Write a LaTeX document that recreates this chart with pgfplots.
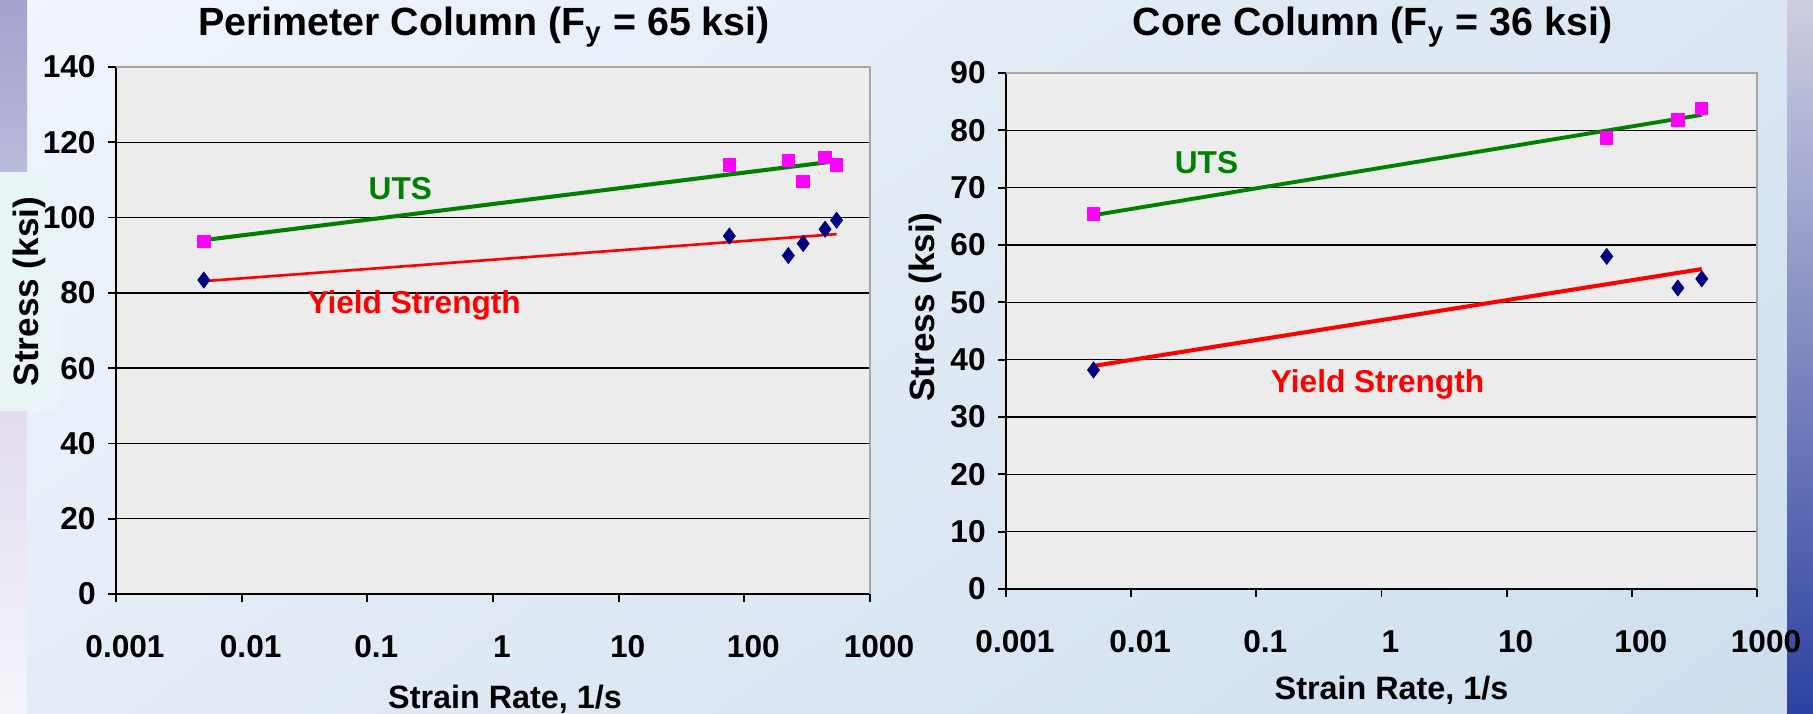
\documentclass[border=0pt]{standalone}
\usepackage{pgfplots}
\pgfplotsset{compat=1.18}
\usetikzlibrary{shadings}
\usepackage{fontspec}
\setmainfont{Liberation Sans}

\definecolor{bgtl}{RGB}{240,245,251}
\definecolor{bgtr}{RGB}{218,230,242}
\definecolor{bgbl}{RGB}{228,236,246}
\definecolor{bgbr}{RGB}{206,222,238}
\definecolor{stripetop}{RGB}{162,162,204}
\definecolor{stripemid}{RGB}{186,186,218}
\definecolor{stripelow}{RGB}{226,220,236}
\definecolor{stripebot}{RGB}{244,244,250}
\definecolor{labelbox}{RGB}{232,244,246}
\definecolor{bartop}{RGB}{206,206,224}
\definecolor{barbot}{RGB}{45,65,160}
\definecolor{plotbg}{RGB}{236,236,236}
\definecolor{utsgreen}{RGB}{0,128,0}
\definecolor{ysred}{RGB}{255,0,0}
\definecolor{sqmag}{RGB}{255,0,255}
\definecolor{dmnavy}{RGB}{0,0,128}

\begin{document}
\begin{tikzpicture}
\useasboundingbox (0,0) rectangle (181.3mm,71.4mm);
% slide background
\shade[upper left=bgtl, upper right=bgtr, lower left=bgbl, lower right=bgbr]
  (0,0) rectangle (181.3mm,71.4mm);
\shade[top color=stripetop, bottom color=stripemid] (0,54.2mm) rectangle (2.7mm,71.4mm);
\fill[labelbox] (0,30.2mm) rectangle (6.0mm,54.2mm);
\shade[top color=stripelow, bottom color=stripebot] (0,0) rectangle (2.7mm,30.2mm);
\shade[top color=bartop, bottom color=barbot] (178.7mm,0) rectangle (181.3mm,71.4mm);

% Perimeter column
\begin{axis}[
    at={(11.6mm,12.0mm)}, anchor=south west, scale only axis,
    width=75.4mm, height=52.7mm,
    xmode=log, xmin=0.001, xmax=1000,
    xtick={0.001,0.01,0.1,1,10,100,1000},
    xticklabels={0.001,0.01,0.1,1,10,100,1000},
    xminorticks=false,
    ymin=0, ymax=140, ytick={0,20,...,140},
    axis x line*=bottom, axis y line*=left,
    axis line style={black, line width=0.5pt},
    tick align=outside, major tick length=0.8mm,
    tick style={black, line width=0.5pt},
    ymajorgrids, major grid style={black, line width=0.4pt},
    axis background/.style={fill=plotbg},
    /pgf/number format/assume math mode=true,
    tick label style={font=\bfseries\fontsize{9}{10}\selectfont},
    xticklabel style={yshift=-2.1mm, xshift=0.9mm},
    extra description/.code={\draw[black!35, line width=0.8pt] (0,1) -- (1,1) -- (1,0);},
    every axis title shift=0pt,
    title={Perimeter Column (F\textsubscript{y} = 65 ksi)},
    title style={font=\bfseries\fontsize{11.2}{13}\selectfont, at={(rel axis cs:0.5,1)}, anchor=center, xshift=-0.9mm, yshift=4.0mm},
    xlabel={Strain Rate, 1/s},
    xlabel style={font=\bfseries\fontsize{9.2}{11}\selectfont, at={(rel axis cs:0.5,0)}, anchor=center, xshift=1.2mm, yshift=-10.5mm},
    ylabel={Stress (ksi)},
    every axis y label/.style={font=\bfseries\fontsize{10}{12}\selectfont, at={(rel axis cs:0,0.5)}, xshift=-8.7mm, yshift=3.9mm, rotate=90, anchor=center},
  ]
  % UTS
  \addplot[only marks, mark=square*, mark size=0.6mm, mark options={draw=sqmag, fill=sqmag}]
    coordinates {(0.005,93.7) (76,114) (224,115.2) (294,109.6) (439,116) (542,114)};
  \addplot[utsgreen, line width=1.15pt] coordinates {(0.005,94.0) (542,115.0)};
  % Yield strength
  \addplot[only marks, mark=diamond*, mark size=0.75mm, mark options={draw=dmnavy, fill=dmnavy}]
    coordinates {(0.005,83.4) (76,95.1) (224,89.9) (294,93.1) (439,96.9) (542,99.3)};
  \addplot[ysred, line width=0.75pt] coordinates {(0.005,83.1) (542,95.6)};
  \node[font=\bfseries\fontsize{9}{11}\selectfont, text=utsgreen] at (axis cs:0.183,107.7) {UTS};
  \node[font=\bfseries\fontsize{9}{11}\selectfont, text=ysred] at (axis cs:0.236,76.6) {Yield Strength};
\end{axis}

% Core column
\begin{axis}[
    at={(100.6mm,12.5mm)}, anchor=south west, scale only axis,
    width=75.1mm, height=51.6mm,
    xmode=log, xmin=0.001, xmax=1000,
    xtick={0.001,0.01,0.1,1,10,100,1000},
    xticklabels={0.001,0.01,0.1,1,10,100,1000},
    xminorticks=false,
    ymin=0, ymax=90, ytick={0,10,...,90},
    axis x line*=bottom, axis y line*=left,
    axis line style={black, line width=0.5pt},
    tick align=outside, major tick length=0.8mm,
    tick style={black, line width=0.5pt},
    ymajorgrids, major grid style={black, line width=0.4pt},
    axis background/.style={fill=plotbg},
    /pgf/number format/assume math mode=true,
    tick label style={font=\bfseries\fontsize{9}{10}\selectfont},
    xticklabel style={yshift=-2.1mm, xshift=0.9mm},
    extra description/.code={\draw[black!35, line width=0.8pt] (0,1) -- (1,1) -- (1,0);},
    every axis title shift=0pt,
    title={Core Column (F\textsubscript{y} = 36 ksi)},
    title style={font=\bfseries\fontsize{11.2}{13}\selectfont, at={(rel axis cs:0.5,1)}, anchor=center, xshift=-0.9mm, yshift=4.6mm},
    xlabel={Strain Rate, 1/s},
    xlabel style={font=\bfseries\fontsize{9.2}{11}\selectfont, at={(rel axis cs:0.5,0)}, anchor=center, xshift=1.0mm, yshift=-10.1mm},
    ylabel={Stress (ksi)},
    every axis y label/.style={font=\bfseries\fontsize{10}{12}\selectfont, at={(rel axis cs:0,0.5)}, xshift=-8.1mm, yshift=2.4mm, rotate=90, anchor=center},
  ]
  % UTS
  \addplot[only marks, mark=square*, mark size=0.6mm, mark options={draw=sqmag, fill=sqmag}]
    coordinates {(0.005,65.4) (63,78.7) (233,81.8) (362,83.8)};
  \addplot[utsgreen, line width=1.1pt] coordinates {(0.005,65.2) (362,82.7)};
  % Yield strength
  \addplot[only marks, mark=diamond*, mark size=0.75mm, mark options={draw=dmnavy, fill=dmnavy}]
    coordinates {(0.005,38.2) (63,58.0) (233,52.5) (362,54.1)};
  \addplot[ysred, line width=1.15pt] coordinates {(0.005,38.9) (362,55.8)};
  \node[font=\bfseries\fontsize{9}{11}\selectfont, text=utsgreen] at (axis cs:0.040,74.4) {UTS};
  \node[font=\bfseries\fontsize{9}{11}\selectfont, text=ysred] at (axis cs:0.93,35.6) {Yield Strength};
\end{axis}
\end{tikzpicture}
\end{document}
